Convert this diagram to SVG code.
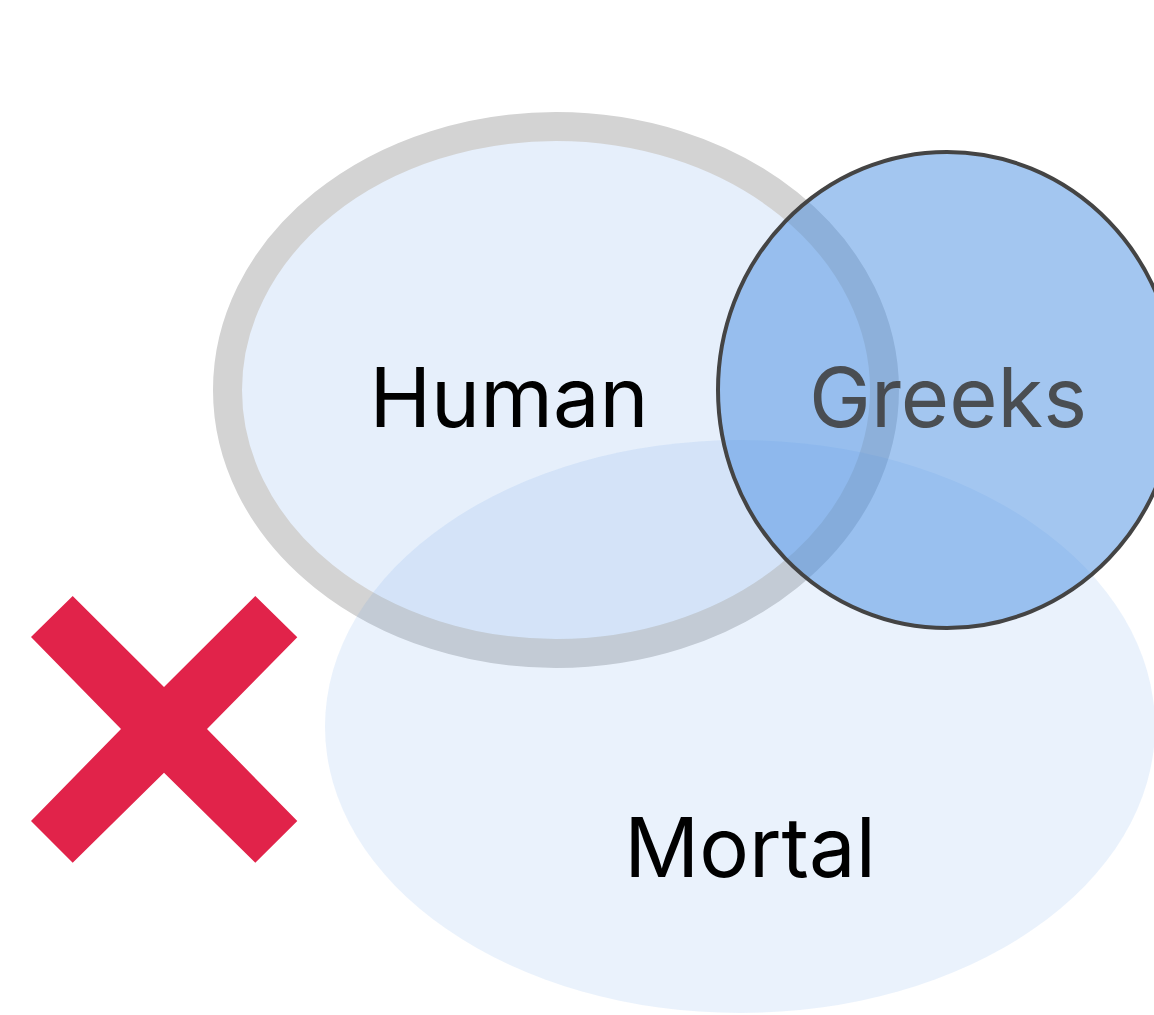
<svg xmlns="http://www.w3.org/2000/svg" width="1154" height="1015" viewBox="0 0 1154 1015">
  <style>
    .label { font-family: Inter, "Liberation Sans", Arial, sans-serif; font-size: 83px; text-anchor: middle; }
    .set { fill: #4a90e2; }
  </style>
  <rect width="1154" height="1015" fill="#ffffff"/>

  <!-- Human set -->
  <g id="human">
    <ellipse cx="556" cy="390" rx="328.5" ry="263.5" fill="#e6effb" stroke="#d3d3d3" stroke-width="29"/>
    <text class="label" x="509" y="427" fill="#000000">Human</text>
  </g>

  <!-- Mortal set -->
  <g id="mortal">
    <ellipse class="set" cx="740" cy="726.5" rx="415" ry="286.5" fill-opacity="0.116"/>
    <text class="label" x="750" y="877" fill="#000000">Mortal</text>
  </g>

  <!-- Greeks set -->
  <g id="greeks">
    <ellipse class="set" cx="947" cy="390" rx="229" ry="238" fill-opacity="0.51" stroke="#444444" stroke-width="4"/>
    <text class="label" x="948" y="427" fill="#404040" fill-opacity="0.9">Greeks</text>
  </g>

  <!-- rejection mark -->
  <g id="cross">
    <polygon fill="#e1234a" points="31,637 72.7,596 164,687 255.3,596 297.3,637.3 207,729 297.3,821 255.3,862.7 164,772.7 72.7,862.7 31,821 121,729"/>
  </g>

  <g id="connectors"/>
</svg>
